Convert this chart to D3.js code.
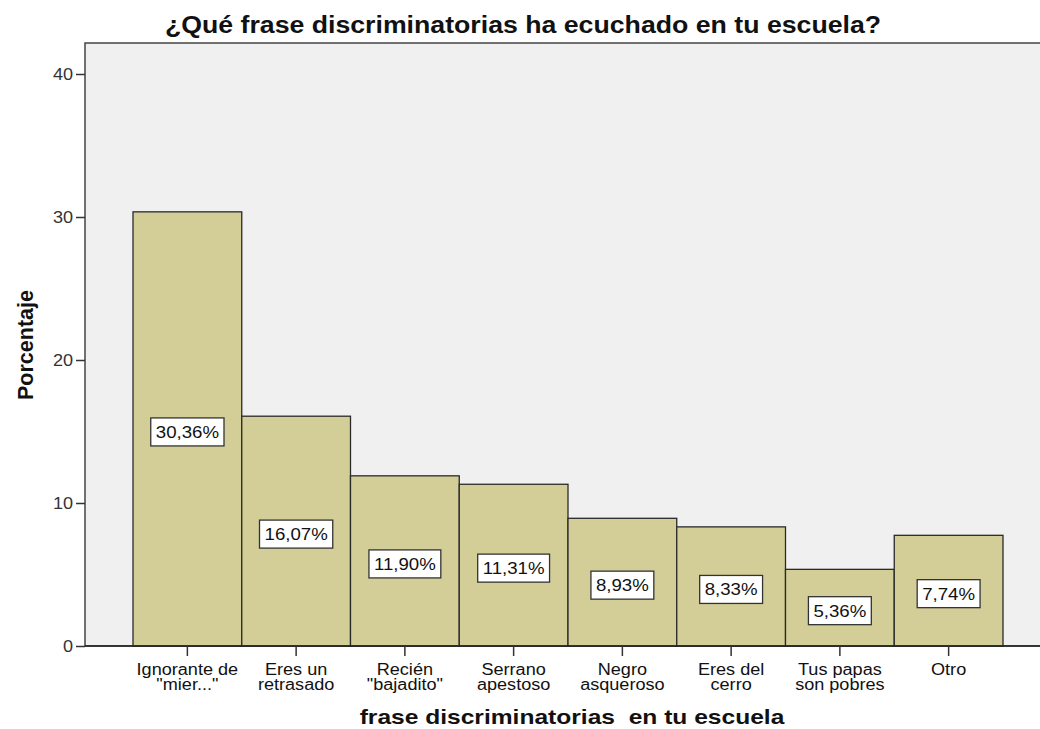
<!DOCTYPE html>
<html><head><meta charset="utf-8">
<script src="https://cdn.jsdelivr.net/npm/d3@7"></script>
<style>body{margin:0;background:#fff}svg{display:block}text{font-family:"Liberation Sans",Arial,sans-serif}</style>
</head><body>
<svg id="c" width="1040" height="729"></svg>
<script>
const categories = [["Ignorante de","\"mier...\""],["Eres un","retrasado"],["Recién","\"bajadito\""],["Serrano","apestoso"],["Negro","asqueroso"],["Eres del","cerro"],["Tus papas","son pobres"],["Otro"]];
const values = [30.36, 16.07, 11.90, 11.31, 8.93, 8.33, 5.36, 7.74];
const labels = ["30,36%","16,07%","11,90%","11,31%","8,93%","8,33%","5,36%","7,74%"];
const yTicks = [0,10,20,30,40];

const SX = 1.13; // horizontal stretch of the reference glyphs
function stretch(sel, k){
  sel.each(function(){
    const w=this.getComputedTextLength();
    d3.select(this).attr("textLength", w*k).attr("lengthAdjust","spacingAndGlyphs");
  });
}

const svg = d3.select("#c");
const L=85, T=43, R=1045, B=646;
const y = d3.scaleLinear().domain([0,40]).range([B,74]);
const x = d3.scaleBand().domain(d3.range(categories.length)).range([133,1003]).padding(0);

svg.append("rect").attr("x",L).attr("y",T).attr("width",R-L).attr("height",B-T)
  .attr("fill","#f0f0f0").attr("stroke","#444").attr("stroke-width",1.5);

svg.selectAll("rect.bar").data(values).enter().append("rect").attr("class","bar")
  .attr("x",(d,i)=>x(i)).attr("y",d=>y(d)).attr("width",x.bandwidth()).attr("height",d=>B-y(d))
  .attr("fill","#d3ce97").attr("stroke","#2a2a2a").attr("stroke-width",1.3);

svg.append("line").attr("x1",L).attr("x2",1040).attr("y1",B).attr("y2",B).attr("stroke","#222").attr("stroke-width",1.5);

// y axis
const ya = svg.append("g").attr("transform",`translate(${L},0)`).call(d3.axisLeft(y).tickValues(yTicks).tickSize(9).tickPadding(3));
ya.select(".domain").remove();
ya.selectAll("line").attr("stroke","#333").attr("stroke-width",1.5);
ya.selectAll("text").attr("font-size",16).attr("fill","#333").attr("font-family","Liberation Sans, Arial, sans-serif");
stretch(ya.selectAll("text"), SX);

// x axis ticks + labels
const xa = svg.append("g").attr("transform",`translate(0,${B})`);
categories.forEach((c,i)=>{
  const cx = x(i)+x.bandwidth()/2;
  xa.append("line").attr("x1",cx).attr("x2",cx).attr("y1",0).attr("y2",10).attr("stroke","#333").attr("stroke-width",1.5);
  c.forEach((line,k)=>{
    const t = xa.append("text").attr("x",cx).attr("y",29+k*15).attr("text-anchor","middle").attr("font-size",16).attr("fill","#111").text(line);
    stretch(t, SX);
  });
});

// value label boxes
const g = svg.selectAll("g.lab").data(values).enter().append("g").attr("class","lab")
  .attr("transform",(d,i)=>`translate(${x(i)+x.bandwidth()/2},${(y(d)+B)/2+3})`);
g.each(function(d,i){
  const s=d3.select(this);
  const t=s.append("text").attr("text-anchor","middle").attr("dy","0.36em").attr("font-size",16.5).attr("fill","#111").text(labels[i]);
  const w0=t.node().getComputedTextLength();
  stretch(t, SX);
  const w=w0*SX+10;
  s.insert("rect","text").attr("x",-w/2).attr("y",-14).attr("width",w).attr("height",28).attr("fill","#fff").attr("stroke","#333").attr("stroke-width",1.3);
});

const title = svg.append("text").attr("x",523).attr("y",33).attr("text-anchor","middle").attr("font-size",23).attr("font-weight","bold").attr("fill","#111")
  .text("¿Qué frase discriminatorias ha ecuchado en tu escuela?");
stretch(title, 1.16);
const xt = svg.append("text").attr("x",572).attr("y",724).attr("text-anchor","middle").attr("font-size",21).attr("font-weight","bold").attr("fill","#111")
  .style("white-space","pre").text("frase discriminatorias  en tu escuela");
stretch(xt, 1.17);
svg.append("text").attr("transform","translate(33,345) rotate(-90)").attr("text-anchor","middle").attr("font-size",21.5).attr("font-weight","bold").attr("fill","#111")
  .text("Porcentaje");
</script>
</body></html>
